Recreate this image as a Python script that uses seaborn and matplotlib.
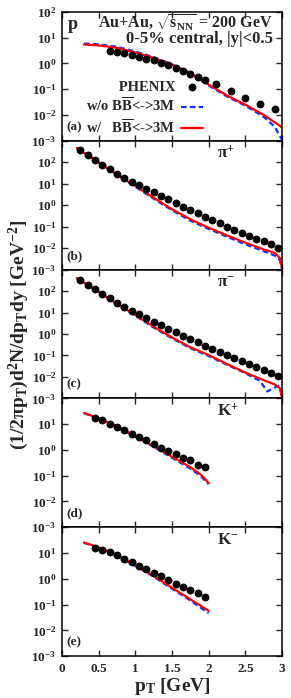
import numpy as np
import matplotlib
matplotlib.use("Agg")
import matplotlib.pyplot as plt
import matplotlib.ticker as mticker
import seaborn as sns

# --- values ---
# (a) protons
pt_p_data = [0.65, 0.75, 0.85, 0.95, 1.05, 1.15, 1.25, 1.35, 1.45, 1.55,
             1.65, 1.75, 1.85, 1.95, 2.1, 2.3, 2.5, 2.7, 2.9]
p_data = [3.1, 2.74, 2.43, 2.15, 1.85, 1.55, 1.33, 1.08, 0.85, 0.65,
          0.50, 0.38, 0.29, 0.22, 0.154, 0.087, 0.047, 0.026, 0.0168]
pt_p_model = [0.3, 0.5, 0.75, 1.0, 1.25, 1.5, 1.75, 2.0, 2.25, 2.5, 2.75, 2.9, 3.0]
p_with = [5.4, 5.0, 4.0, 2.65, 1.64, 0.90, 0.43, 0.15, 0.057, 0.025, 0.0100, 0.0052, 0.0033]
p_without = [5.9, 5.5, 4.4, 2.9, 1.75, 0.92, 0.41, 0.14, 0.052, 0.023, 0.0085, 0.0035, 0.0011]

# (b),(c) pions
pt_pi_data = [0.25, 0.35, 0.45, 0.55, 0.65, 0.75, 0.85, 0.95, 1.05, 1.15,
              1.25, 1.35, 1.45, 1.55, 1.65, 1.75, 1.85, 1.95, 2.05, 2.15,
              2.25, 2.35, 2.45, 2.55, 2.65, 2.75, 2.85, 2.95]
pip_data = [380, 219, 133, 78, 46, 29.5, 18.5, 12.3, 8.6, 5.6,
            3.9, 2.74, 1.85, 1.24, 0.83, 0.60, 0.42, 0.29, 0.20, 0.143,
            0.10, 0.072, 0.052, 0.036, 0.027, 0.021, 0.0155, 0.0105]
pim_data = [330, 194, 118, 71, 45, 28, 18.3, 12, 8.1, 5.5,
            3.7, 2.7, 1.8, 1.26, 0.82, 0.60, 0.42, 0.29, 0.20, 0.143,
            0.104, 0.075, 0.055, 0.038, 0.030, 0.022, 0.015, 0.0105]
pt_pi_model = [0.2, 0.5, 0.75, 1.0, 1.25, 1.5, 1.75, 2.0, 2.25, 2.5, 2.75, 2.9, 2.97, 3.0]
pip_with = [455, 100, 26, 7.8, 2.2, 0.65, 0.22, 0.089, 0.039, 0.018, 0.0087, 0.006, 0.0035, 0.0012]
pip_without = [455, 98, 25, 7.2, 2.0, 0.58, 0.19, 0.078, 0.034, 0.015, 0.0072, 0.0045, 0.0028, 0.0011]
pim_with = [400, 95, 25, 7.6, 2.2, 0.69, 0.24, 0.105, 0.040, 0.016, 0.0071, 0.0045, 0.003, 0.00105]
pt_pim_without = [0.2, 0.5, 0.75, 1.0, 1.25, 1.5, 1.75, 2.0, 2.25, 2.5, 2.7, 2.8, 2.9, 3.0]
pim_without = [400, 93, 24, 7.1, 2.0, 0.63, 0.22, 0.095, 0.037, 0.015, 0.0065, 0.0021, 0.0032, 0.0045]

# (d),(e) kaons
pt_k_data = [0.45, 0.55, 0.65, 0.75, 0.85, 0.95, 1.05, 1.15,
             1.25, 1.35, 1.45, 1.55, 1.65, 1.75, 1.85, 1.95]
kp_data = [17, 14.3, 10.3, 7.7, 5.7, 4.1, 3.07, 2.35,
           1.7, 1.23, 0.94, 0.70, 0.49, 0.39, 0.27, 0.214]
km_data = [16.3, 13.2, 10.7, 8.2, 5.9, 4.5, 3.27, 2.35,
           1.70, 1.26, 0.91, 0.62, 0.47, 0.38, 0.27, 0.19]
pt_kp_model = [0.3, 0.5, 0.75, 1.0, 1.25, 1.5, 1.75, 1.9, 2.0]
kp_with = [27.3, 17, 8.3, 3.5, 1.43, 0.55, 0.215, 0.106, 0.052]
kp_without = [27, 16.5, 7.9, 3.3, 1.33, 0.50, 0.19, 0.092, 0.047]
pt_km_model = [0.3, 0.5, 0.75, 1.0, 1.25, 1.5, 1.75, 2.0]
km_with = [25.5, 16.8, 8.2, 3.4, 1.30, 0.45, 0.162, 0.057]
km_without = [25, 16, 7.7, 3.2, 1.2, 0.41, 0.145, 0.046]

# --- style ---
sns.set_style("ticks")
plt.rcParams.update({
    "font.family": ["Liberation Serif", "DejaVu Serif"],
    "font.weight": "bold",
    "axes.labelweight": "bold",
    "mathtext.fontset": "custom",
    "mathtext.rm": "Liberation Serif:bold",
    "mathtext.it": "Liberation Serif:italic:bold",
    "mathtext.bf": "Liberation Serif:bold",
    "mathtext.default": "rm",
    "xtick.direction": "in",
    "ytick.direction": "in",
    "xtick.top": True,
    "ytick.right": True,
    "axes.linewidth": 1.1,
    "axes.edgecolor": "black",
})

panels = [
    (pt_p_data, p_data, pt_p_model, p_with, pt_p_model, p_without, (-3, 2), "p", "(a)"),
    (pt_pi_data, pip_data, pt_pi_model, pip_with, pt_pi_model, pip_without, (-3, 3), r"π$^{+}$", "(b)"),
    (pt_pi_data, pim_data, pt_pi_model, pim_with, pt_pim_without, pim_without, (-3, 3), r"π$^{-}$", "(c)"),
    (pt_k_data, kp_data, pt_kp_model, kp_with, pt_kp_model, kp_without, (-3, 2), r"K$^{+}$", "(d)"),
    (pt_k_data, km_data, pt_km_model, km_with, pt_km_model, km_without, (-3, 2), r"K$^{-}$", "(e)"),
]

fig, axes = plt.subplots(5, 1, figsize=(2.91, 6.98), dpi=100, sharex=True)
fig.subplots_adjust(left=0.213, right=0.969, top=0.983, bottom=0.060, hspace=0)

for i, (ax, (xd, yd, xr, yr, xb, yb, (lo, hi), name, tag)) in enumerate(zip(axes, panels)):
    first = i == 0
    sns.scatterplot(x=xd, y=yd, ax=ax, color="black", edgecolor="black", s=32,
                    linewidth=0, zorder=3, label="PHENIX" if first else None, legend=False)
    sns.lineplot(x=xb, y=yb, ax=ax, color="#1030ff", lw=1.6, linestyle=(0, (2.5, 1.5)),
                 label="w/o" if first else None, legend=False)
    sns.lineplot(x=xr, y=yr, ax=ax, color="red", lw=1.6,
                 label="w/" if first else None, legend=False)

    ax.set_yscale("log")
    ax.set_ylim(10.0 ** lo, 10.0 ** hi)
    ax.yaxis.set_major_locator(mticker.FixedLocator([10.0 ** e for e in range(lo, hi + 1)]))
    ax.yaxis.set_minor_locator(mticker.NullLocator())

    def fmt(v, pos, hi=hi, first=first):
        e = int(round(np.log10(v)))
        if e == hi and not first:
            return ""
        return r"$\mathbf{10^{%d}}$" % e
    ax.yaxis.set_major_formatter(mticker.FuncFormatter(fmt))
    ax.tick_params(axis="both", which="major", length=4, width=1.0, labelsize=9.5)
    ax.tick_params(axis="y", pad=4)
    ax.tick_params(axis="x", pad=5)
    ax.set_ylabel("")
    ax.set_xlabel("")

    ax.text(0.02, 0.06, tag, transform=ax.transAxes, fontsize=9.5, ha="left", va="bottom",
            fontweight="bold")
    if first:
        ax.text(0.025, 0.965, name, transform=ax.transAxes, fontsize=13, ha="left", va="top",
                fontweight="bold")
    else:
        ax.text(0.705, 0.96, name, transform=ax.transAxes, fontsize=12.5, ha="left", va="top",
                fontweight="bold")

ax = axes[-1]
ax.set_xlim(0, 3)
ax.set_xticks([0, 0.5, 1, 1.5, 2, 2.5, 3], ["0", "0.5", "1", "1.5", "2", "2.5", "3"])
for lbl in ax.get_xticklabels():
    lbl.set_fontweight("bold")
ax.set_xlabel(r"p$_{\rm T}$ [GeV]", fontsize=14, labelpad=1, fontweight="bold")

# panel (a) annotations and legend
ax = axes[0]
ax.text(0.96, 0.995, r"Au+Au, $\sqrt{\rm s_{NN}}$ = 200 GeV", transform=ax.transAxes,
        fontsize=11.5, ha="right", va="top", fontweight="bold")
ax.text(0.96, 0.85, "0-5% central, |y|<0.5", transform=ax.transAxes,
        fontsize=12, ha="right", va="top", fontweight="bold")
h, l = ax.get_legend_handles_labels()
hd = dict(zip(l, h))
ax.legend([hd["PHENIX"], hd["w/o"], hd["w/"]],
          ["      PHENIX", r"w/o $\rm B\overline{B}$<->3M", r"w/   $\rm B\overline{B}$<->3M"],
          loc="lower left", bbox_to_anchor=(0.11, 0.035), frameon=False, markerfirst=False,
          prop={"size": 10.5, "weight": "bold"}, handlelength=1.5, handletextpad=0.4,
          labelspacing=0.2, borderpad=0, borderaxespad=0)

fig.text(0.065, 0.52, r"(1/2πp$_{\rm T}$)d$^{2}$N/dp$_{\rm T}$dy [GeV$^{-2}$]",
         rotation=90, fontsize=14, ha="center", va="center", fontweight="bold")

plt.savefig("out.png", dpi=100)
